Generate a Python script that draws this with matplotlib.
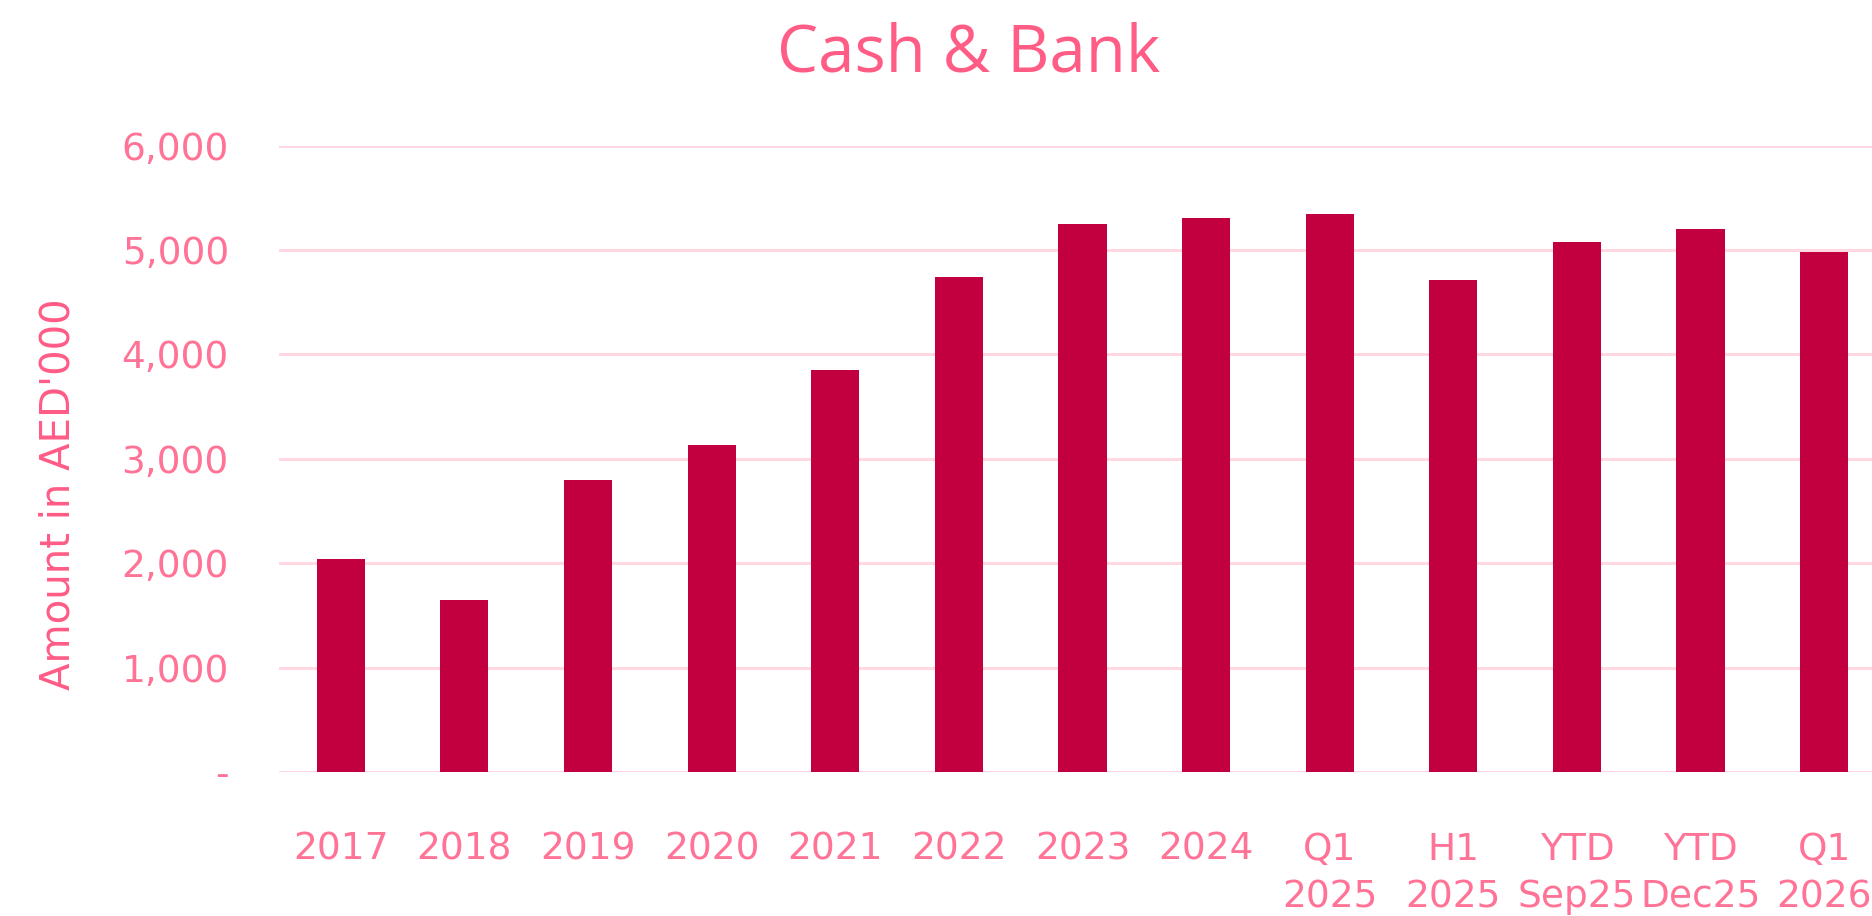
import matplotlib.pyplot as plt
from matplotlib.ticker import FuncFormatter

# Cash & Bank balances, AED'000
labels = ['2017', '2018', '2019', '2020', '2021', '2022', '2023', '2024',
          'Q1\n2025', 'H1\n2025', 'YTD\nSep25', 'YTD\nDec25', 'Q1\n2026']
values = [2040, 1650, 2800, 3135, 3855, 4740, 5250, 5310, 5345, 4710, 5075, 5200, 4980]
yticks = [0, 1000, 2000, 3000, 4000, 5000, 6000]

bar_color = '#C20040'
text_color = '#FF5C86'
tick_color = '#FF7396'
grid_color = '#FFD8E1'

fig = plt.figure(figsize=(18.72, 9.16), dpi=100)
ax = fig.add_axes([0.149, 0.157, 0.8585, 0.684])

x = range(len(labels))
ax.bar(x, values, width=0.39, color=bar_color, zorder=3)

ax.set_xlim(-0.5, len(labels) - 0.5)
ax.set_ylim(0, 6000)
ax.set_yticks(yticks)
ax.yaxis.set_major_formatter(FuncFormatter(lambda v, p: '-' if v == 0 else f'{int(v):,}'))
ax.set_xticks(list(x))
ax.set_xticklabels(labels, linespacing=1.4)

ax.grid(axis='y', color=grid_color, linewidth=2.2, zorder=0)
for s in ax.spines.values():
    s.set_visible(False)
ax.tick_params(axis='both', length=0, labelsize=27, colors=tick_color)
ax.tick_params(axis='y', pad=36)
ax.tick_params(axis='x', pad=43)
for t in ax.get_xticklabels() + ax.get_yticklabels():
    t.set_color(tick_color)

fig.text(0.031, 0.461, "Amount in AED'000", rotation=90, ha='center', va='center',
         fontsize=29, color=text_color)
fig.text(0.5176, 0.941, 'Cash & Bank', ha='center', va='center',
         fontsize=47, color=text_color, family='Open Sans')

fig.savefig('out.png', dpi=100, facecolor='white')
